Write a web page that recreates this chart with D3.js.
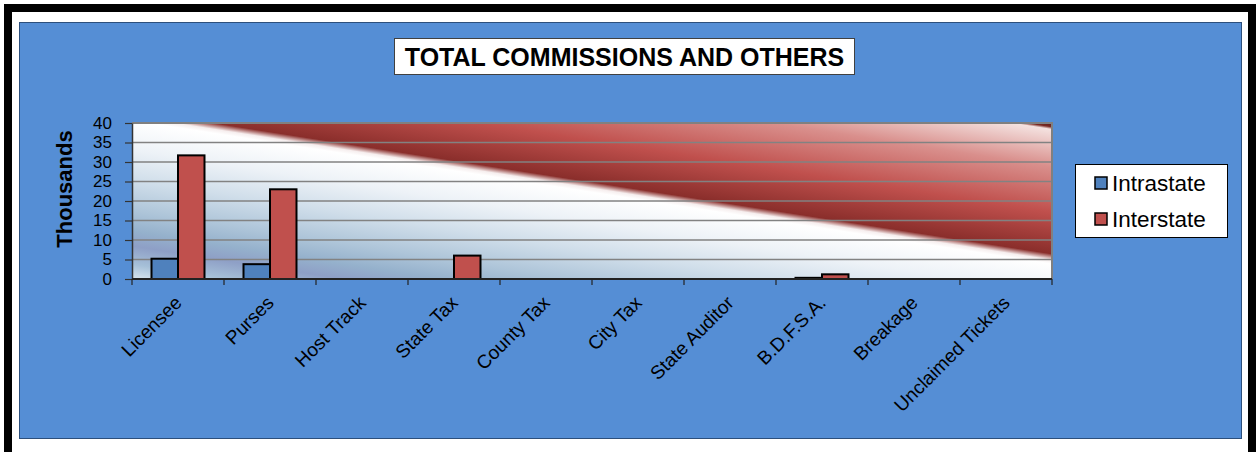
<!DOCTYPE html>
<html>
<head>
<meta charset="utf-8">
<script src="https://cdn.jsdelivr.net/npm/d3@7"></script>
<style>
  html, body { margin: 0; padding: 0; background: #ffffff; }
  svg { display: block; }
  text { font-family: "Liberation Sans", Arial, sans-serif; fill: #000; }
</style>
</head>
<body>
<svg id="chart" width="1260" height="452"></svg>
<script>
// ---------- data ----------
const categories = ["Licensee", "Purses", "Host Track", "State Tax", "County Tax",
                    "City Tax", "State Auditor", "B.D.F.S.A.", "Breakage", "Unclaimed Tickets"];
const seriesNames = ["Intrastate", "Interstate"];
const intrastate = [5.2, 3.8, 0, 0, 0, 0, 0, 0.3, 0, 0];
const interstate = [31.7, 23.0, 0, 6.0, 0, 0, 0, 1.2, 0, 0];
const yTicks = [0, 5, 10, 15, 20, 25, 30, 35, 40];
const titleText = "TOTAL COMMISSIONS AND OTHERS";
const yAxisTitle = "Thousands";

// ---------- layout ----------
const plot = { left: 132, top: 123, right: 1052, bottom: 279 };
const colors = { Intrastate: "#4F81BD", Interstate: "#C0504D" };
const bg = "#558ED5";

const svg = d3.select("#chart");

// page frame
svg.append("rect").attr("x", 8).attr("y", 8).attr("width", 1244).attr("height", 470)
   .attr("fill", "#fff").attr("stroke", "#000").attr("stroke-width", 8);
// chart area
svg.append("rect").attr("x", 19.5).attr("y", 22.5).attr("width", 1222).attr("height", 416)
   .attr("fill", bg).attr("stroke", "#2c4f7c").attr("stroke-width", 1);

// ---------- scales ----------
const x0 = d3.scaleBand().domain(categories).range([plot.left, plot.right]).padding(0);
const bw = x0.bandwidth();
const groupFrac = 0.576;
const x1 = d3.scaleBand().domain(seriesNames)
   .range([bw * (1 - groupFrac) / 2, bw * (1 + groupFrac) / 2]).padding(0);
const y = d3.scaleLinear().domain([0, 40]).range([plot.bottom, plot.top]);

// ---------- plot background gradient ----------
const defs = svg.append("defs");
const pw = plot.right - plot.left, ph = plot.bottom - plot.top;
const A = [plot.left + pw * 0.06, plot.top];   // point on the diagonal edge
const slope = 0.156;
const dl = Math.hypot(1, slope);
const n = [slope / dl, -1 / dl];               // normal pointing to upper right
const corners = [[plot.left, plot.top], [plot.right, plot.top], [plot.left, plot.bottom], [plot.right, plot.bottom]];
const ts = corners.map(c => (c[0] - A[0]) * n[0] + (c[1] - A[1]) * n[1]);
const tmin = d3.min(ts), tmax = d3.max(ts);
const grad = defs.append("linearGradient").attr("id", "plotGrad")
   .attr("gradientUnits", "userSpaceOnUse")
   .attr("x1", A[0] + tmin * n[0]).attr("y1", A[1] + tmin * n[1])
   .attr("x2", A[0] + tmax * n[0]).attr("y2", A[1] + tmax * n[1]);
const span = tmax - tmin;
const off = t => Math.max(0, Math.min(1, (t - tmin) / span));
const stops = [
  [tmin, "#d8e5ee"], [-148, "#a6c0d8"], [-130, "#8e9fc6"], [-115, "#95b1cc"],
  [-95, "#aec5d9"], [-65, "#d0deea"], [-35, "#edf2f7"], [-6, "#ffffff"],
  [-2, "#f6eeee"], [4, "#8a2e2b"], [45, "#c0504d"], [90, "#d98f8c"], [127, "#f4e2e0"],
  [129.5, "#7a2a24"], [tmax, "#5c1c18"]
];
stops.forEach(s => grad.append("stop").attr("offset", off(s[0])).attr("stop-color", s[1]));

svg.append("rect").attr("x", plot.left).attr("y", plot.top).attr("width", pw).attr("height", ph)
   .attr("fill", "url(#plotGrad)");

// gridlines
svg.append("g").selectAll("line").data(yTicks.filter(d => d > 0)).join("line")
   .attr("x1", plot.left).attr("x2", plot.right)
   .attr("y1", d => y(d)).attr("y2", d => y(d))
   .attr("stroke", "#828282").attr("stroke-width", 1.6);
// plot border (top/right)
svg.append("path")
   .attr("d", `M${plot.left},${plot.top}H${plot.right}V${plot.bottom}`)
   .attr("fill", "none").attr("stroke", "#808080").attr("stroke-width", 2);

// ---------- bars ----------
const barData = [];
categories.forEach((c, i) => {
  barData.push({ cat: c, s: "Intrastate", v: intrastate[i] });
  barData.push({ cat: c, s: "Interstate", v: interstate[i] });
});
svg.append("g").selectAll("rect").data(barData.filter(d => d.v > 0)).join("rect")
   .attr("x", d => x0(d.cat) + x1(d.s))
   .attr("width", x1.bandwidth())
   .attr("y", d => y(d.v))
   .attr("height", d => y(0) - y(d.v))
   .attr("fill", d => colors[d.s])
   .attr("stroke", "#000").attr("stroke-width", 2);

// ---------- y axis ----------
const yAxis = svg.append("g").attr("transform", `translate(${plot.left},0)`)
   .call(d3.axisLeft(y).tickValues(yTicks).tickSize(7).tickSizeOuter(0).tickPadding(13));
yAxis.select(".domain").attr("stroke", "#333").attr("stroke-width", 1.5);
yAxis.selectAll(".tick line").attr("stroke", "#333").attr("stroke-width", 1.2);
yAxis.selectAll(".tick text").attr("font-size", 17).attr("font-family", "Liberation Sans, Arial, sans-serif")
   .attr("fill", "#000");

// ---------- x axis ----------
const xg = svg.append("g");
xg.append("line").attr("x1", plot.left).attr("x2", plot.right)
  .attr("y1", y(0)).attr("y2", y(0)).attr("stroke", "#222").attr("stroke-width", 2);
const boundaries = categories.map(c => x0(c)).concat([x0.range()[1]]);
xg.selectAll("line.tk").data(boundaries).join("line").attr("class", "tk")
  .attr("x1", d => d).attr("x2", d => d)
  .attr("y1", y(0)).attr("y2", y(0) + 6)
  .attr("stroke", "#222").attr("stroke-width", 1.2);
xg.selectAll("text").data(categories).join("text")
  .attr("text-anchor", "end")
  .attr("font-size", 19)
  .attr("transform", d => `translate(${x0(d) + bw / 2 + 5},${y(0) + 25}) rotate(-45)`)
  .text(d => d);

// y axis title
svg.append("text")
   .attr("transform", `translate(72,189) rotate(-90)`)
   .attr("text-anchor", "middle")
   .attr("font-size", 22).attr("font-weight", "bold")
   .text(yAxisTitle);

// ---------- title ----------
svg.append("rect").attr("x", 394.5).attr("y", 38.5).attr("width", 460).attr("height", 36)
   .attr("fill", "#fff").attr("stroke", "#404040").attr("stroke-width", 1);
svg.append("text").attr("x", 624.5).attr("y", 66)
   .attr("text-anchor", "middle").attr("font-size", 25).attr("font-weight", "bold")
   .text(titleText);

// ---------- legend ----------
const lg = svg.append("g");
lg.append("rect").attr("x", 1075.5).attr("y", 164.5).attr("width", 152).attr("height", 73)
  .attr("fill", "#fff").attr("stroke", "#000").attr("stroke-width", 1);
const ly = d3.scalePoint().domain(seriesNames).range([183, 219]);
lg.selectAll("rect.sw").data(seriesNames).join("rect").attr("class", "sw")
  .attr("x", 1095).attr("y", d => ly(d) - 6).attr("width", 12).attr("height", 12)
  .attr("fill", d => colors[d]).attr("stroke", "#000").attr("stroke-width", 1.5);
lg.selectAll("text").data(seriesNames).join("text")
  .attr("x", 1112).attr("y", d => ly(d) + 8)
  .attr("font-size", 22.5)
  .text(d => d);
</script>
</body>
</html>
